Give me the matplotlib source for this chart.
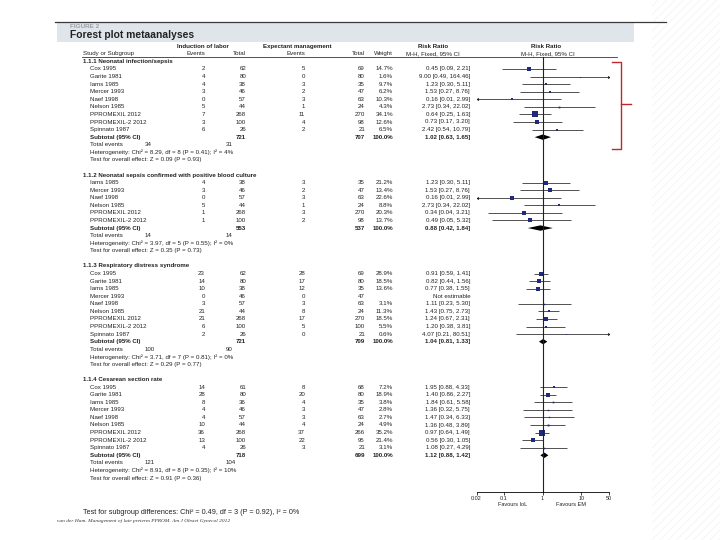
import matplotlib.pyplot as plt
from matplotlib.patches import Rectangle
from matplotlib.ticker import NullLocator

plt.rcParams['font.family'] = ['Liberation Sans', 'DejaVu Sans']
plt.rcParams['hatch.linewidth'] = 0.5

# ---- data ----
all_studies = ["Cox 1995", "Garite 1981", "Iams 1985", "Mercer 1993", "Naef 1998",
               "Nelson 1985", "PPROMEXIL 2012", "PPROMEXIL-2 2012", "Spinnato 1987"]

g1_title = "1.1.1 Neonatal infection/sepsis"
g1_studies = all_studies
g1_ev_iol = [2, 4, 4, 3, 0, 5, 7, 3, 6]
g1_n_iol = [62, 80, 38, 46, 57, 44, 268, 100, 26]
g1_ev_em = [5, 0, 3, 2, 3, 1, 11, 4, 2]
g1_n_em = [69, 80, 35, 47, 63, 24, 270, 98, 21]
g1_weight = [14.7, 1.6, 9.7, 6.2, 10.3, 4.3, 34.1, 12.6, 6.5]
g1_rr = [0.45, 9.00, 1.23, 1.53, 0.16, 2.73, 0.64, 0.73, 2.42]
g1_lo = [0.09, 0.49, 0.30, 0.27, 0.01, 0.34, 0.25, 0.17, 0.54]
g1_hi = [2.21, 164.46, 5.11, 8.76, 2.99, 22.02, 1.63, 3.20, 10.79]
g1_sub = (721, 707, 1.02, 0.63, 1.65)
g1_events = (34, 31)
g1_het = "Heterogeneity: Chi² = 8.29, df = 8 (P = 0.41); I² = 4%"
g1_test = "Test for overall effect: Z = 0.09 (P = 0.93)"

g2_title = "1.1.2 Neonatal sepsis confirmed with positive blood culture"
g2_studies = ["Iams 1985", "Mercer 1993", "Naef 1998", "Nelson 1985",
              "PPROMEXIL 2012", "PPROMEXIL-2 2012"]
g2_ev_iol = [4, 3, 0, 5, 1, 1]
g2_n_iol = [38, 46, 57, 44, 268, 100]
g2_ev_em = [3, 2, 3, 1, 3, 2]
g2_n_em = [35, 47, 63, 24, 270, 98]
g2_weight = [21.2, 13.4, 22.6, 8.8, 20.3, 13.7]
g2_rr = [1.23, 1.53, 0.16, 2.73, 0.34, 0.49]
g2_lo = [0.30, 0.27, 0.01, 0.34, 0.04, 0.05]
g2_hi = [5.11, 8.76, 2.99, 22.02, 3.21, 5.32]
g2_sub = (553, 537, 0.88, 0.42, 1.84)
g2_events = (14, 14)
g2_het = "Heterogeneity: Chi² = 3.97, df = 5 (P = 0.55); I² = 0%"
g2_test = "Test for overall effect: Z = 0.35 (P = 0.73)"

g3_title = "1.1.3 Respiratory distress syndrome"
g3_studies = all_studies
g3_ev_iol = [23, 14, 10, 0, 3, 21, 21, 6, 2]
g3_n_iol = [62, 80, 38, 46, 57, 44, 268, 100, 26]
g3_ev_em = [28, 17, 12, 0, 3, 8, 17, 5, 0]
g3_n_em = [69, 80, 35, 47, 63, 24, 270, 100, 21]
g3_weight = [28.9, 18.5, 13.6, None, 3.1, 11.3, 18.5, 5.5, 0.6]
g3_rr = [0.91, 0.82, 0.77, None, 1.11, 1.43, 1.24, 1.20, 4.07]
g3_lo = [0.59, 0.44, 0.38, None, 0.23, 0.75, 0.67, 0.38, 0.21]
g3_hi = [1.41, 1.56, 1.55, None, 5.30, 2.73, 2.31, 3.81, 80.51]
g3_sub = (721, 709, 1.04, 0.81, 1.33)
g3_events = (100, 90)
g3_het = "Heterogeneity: Chi² = 3.71, df = 7 (P = 0.81); I² = 0%"
g3_test = "Test for overall effect: Z = 0.29 (P = 0.77)"

g4_title = "1.1.4 Cesarean section rate"
g4_studies = all_studies
g4_ev_iol = [14, 28, 8, 4, 4, 10, 36, 13, 4]
g4_n_iol = [61, 80, 36, 46, 57, 44, 268, 100, 26]
g4_ev_em = [8, 20, 4, 3, 3, 4, 37, 22, 3]
g4_n_em = [68, 80, 35, 47, 63, 24, 266, 95, 21]
g4_weight = [7.2, 18.9, 3.8, 2.8, 2.7, 4.9, 35.2, 21.4, 3.1]
g4_rr = [1.95, 1.40, 1.84, 1.36, 1.47, 1.36, 0.97, 0.56, 1.08]
g4_lo = [0.88, 0.86, 0.61, 0.32, 0.34, 0.48, 0.64, 0.30, 0.27]
g4_hi = [4.33, 2.27, 5.58, 5.75, 6.33, 3.89, 1.49, 1.05, 4.29]
g4_sub = (718, 699, 1.12, 0.88, 1.42)
g4_events = (121, 104)
g4_het = "Heterogeneity: Chi² = 8.91, df = 8 (P = 0.35); I² = 10%"
g4_test = "Test for overall effect: Z = 0.91 (P = 0.36)"

overall_test = "Test for subgroup differences: Chi² = 0.49, df = 3 (P = 0.92), I² = 0%"
citation = "van der Ham. Management of late preterm PPROM. Am J Obstet Gynecol 2012"

ticks = [0.02, 0.1, 1, 10, 50]
tick_labels = ["0.02", "0.1", "1", "10", "50"]

groups = [
    (g1_title, g1_studies, g1_ev_iol, g1_n_iol, g1_ev_em, g1_n_em, g1_weight,
     g1_rr, g1_lo, g1_hi, g1_sub, g1_events, g1_het, g1_test),
    (g2_title, g2_studies, g2_ev_iol, g2_n_iol, g2_ev_em, g2_n_em, g2_weight,
     g2_rr, g2_lo, g2_hi, g2_sub, g2_events, g2_het, g2_test),
    (g3_title, g3_studies, g3_ev_iol, g3_n_iol, g3_ev_em, g3_n_em, g3_weight,
     g3_rr, g3_lo, g3_hi, g3_sub, g3_events, g3_het, g3_test),
    (g4_title, g4_studies, g4_ev_iol, g4_n_iol, g4_ev_em, g4_n_em, g4_weight,
     g4_rr, g4_lo, g4_hi, g4_sub, g4_events, g4_het, g4_test),
]

# ---- layout (pixels) ----
Y0, DY = 61.4, 7.575
X_HDR, X_NAME = 83, 90
X_EV1, X_N1, X_EV2, X_N2, X_W, X_RR = 205, 246, 305, 365, 393, 470
X_TOT1, X_TOT2 = 145, 226
FS = 4.4
TXT = '#222222'
XMIN, XMAX = 0.02, 50

fig = plt.figure(figsize=(7.2, 5.4), dpi=100)
ax = fig.add_axes([0, 0, 1, 1])
ax.set_xlim(0, 720)
ax.set_ylim(540, 0)
ax.axis('off')

# faint slide texture on the right edge
ax.add_patch(Rectangle((652, 0), 68, 540, facecolor='white', edgecolor='#f1f1f1',
                       hatch='////', lw=0))

fx = fig.add_axes([476.5 / 720, 0, 132 / 720, 1])
fx.set_xscale('log')
fx.set_xlim(XMIN, XMAX)
fx.set_ylim(540, 0)
fx.patch.set_alpha(0)
for s in ['top', 'left', 'right']:
    fx.spines[s].set_visible(False)
fx.spines['bottom'].set_position(('data', 492))
fx.spines['bottom'].set_linewidth(0.6)
fx.set_yticks([])
fx.set_xticks(ticks)
fx.set_xticklabels(tick_labels)
fx.xaxis.set_minor_locator(NullLocator())
fx.tick_params(axis='x', length=2, width=0.6, labelsize=3.9, pad=0.8, colors=TXT)


def txt(x, y, s, ha='left', bold=False, size=FS, **kw):
    ax.text(x, y, s, ha=ha, va='center', fontsize=size, color=TXT,
            fontweight='bold' if bold else 'normal', **kw)


# title banner
ax.plot([55, 666], [22, 22], color='#3a3a3a', lw=0.9)
ax.add_patch(Rectangle((57, 22.5), 577, 19.5, color='#dfe5ea', lw=0))
ax.text(70, 26.5, "FIGURE 2", fontsize=4.6, color='#9aa2aa', fontweight='bold', va='center')
ax.text(70, 35.5, "Forest plot metaanalyses", fontsize=7.4, color='#222222',
        fontweight='bold', va='center')

# column headers
hy1, hy2 = Y0 - 2 * DY, Y0 - DY
txt(177, hy1, "Induction of labor", bold=True)
txt(263, hy1, "Expectant management", bold=True)
txt(433, hy1, "Risk Ratio", ha='center', bold=True)
txt(546, hy1, "Risk Ratio", ha='center', bold=True)
txt(X_HDR, hy2, "Study or Subgroup")
txt(X_EV1, hy2, "Events", ha='right')
txt(X_N1, hy2, "Total", ha='right')
txt(X_EV2, hy2, "Events", ha='right')
txt(X_N2, hy2, "Total", ha='right')
txt(X_W, hy2, "Weight", ha='right')
txt(433, hy2, "M-H, Fixed, 95% CI", ha='center')
txt(548, hy2, "M-H, Fixed, 95% CI", ha='center')
ax.plot([82, 617], [57.3, 57.3], color='#333333', lw=0.6)

row = 0
for (title, names, e1, n1, e2, n2, w, rr, lo, hi, sub, evs, het, test) in groups:
    txt(X_HDR, Y0 + row * DY, title, bold=True)
    row += 1
    for i, name in enumerate(names):
        y = Y0 + row * DY
        txt(X_NAME, y, name)
        txt(X_EV1, y, str(e1[i]), ha='right')
        txt(X_N1, y, str(n1[i]), ha='right')
        txt(X_EV2, y, str(e2[i]), ha='right')
        txt(X_N2, y, str(n2[i]), ha='right')
        if rr[i] is None:
            txt(452, y, "Not estimable", ha='center')
        else:
            txt(X_W, y, f"{w[i]:.1f}%", ha='right')
            txt(X_RR, y, f"{rr[i]:.2f} [{lo[i]:.2f}, {hi[i]:.2f}]", ha='right')
            a, b = max(lo[i], XMIN), min(hi[i], XMAX)
            fx.plot([a, b], [y, y], color='#444444', lw=0.65, solid_capstyle='butt')
            if lo[i] < XMIN:
                fx.plot([a], [y], marker='<', ms=2.2, color='#222222', mew=0)
            if hi[i] > XMAX:
                fx.plot([b], [y], marker='>', ms=2.2, color='#222222', mew=0)
            fx.plot([rr[i]], [y], marker='s', ms=max(0.7, 0.62 * w[i] ** 0.5),
                    color='#1f2a7c', mew=0)
        row += 1
    y = Y0 + row * DY
    txt(X_NAME, y, "Subtotal (95% CI)", bold=True)
    txt(X_N1, y, str(sub[0]), ha='right', bold=True)
    txt(X_N2, y, str(sub[1]), ha='right', bold=True)
    txt(X_W, y, "100.0%", ha='right', bold=True)
    txt(X_RR, y, f"{sub[2]:.2f} [{sub[3]:.2f}, {sub[4]:.2f}]", ha='right', bold=True)
    fx.fill([sub[3], sub[2], sub[4], sub[2]], [y, y - 2.7, y, y + 2.7],
            color='black', lw=0)
    row += 1
    y = Y0 + row * DY
    txt(X_NAME, y, "Total events")
    txt(X_TOT1, y, str(evs[0]))
    txt(X_TOT2, y, str(evs[1]))
    row += 1
    txt(X_NAME, Y0 + row * DY, het)
    row += 1
    txt(X_NAME, Y0 + row * DY, test)
    row += 2

# line of no effect
fx.plot([1, 1], [57.3, 492], color='#222222', lw=0.8)

txt(513, 504, "Favours IoL", ha='center', size=4.0)
txt(571, 504, "Favours EM", ha='center', size=4.0)

txt(83, 512, overall_test, size=5.2)
ax.text(57, 521, citation, fontsize=3.9, color='#333333', va='center',
        family='Liberation Serif', style='italic')

# red bracket
red = '#c0282d'
ax.plot([612, 620.5, 620.5, 612], [62, 62, 149, 149], color=red, lw=1)
ax.plot([620.5, 631], [104, 104], color=red, lw=1)

fig.savefig("out.png", dpi=100)
